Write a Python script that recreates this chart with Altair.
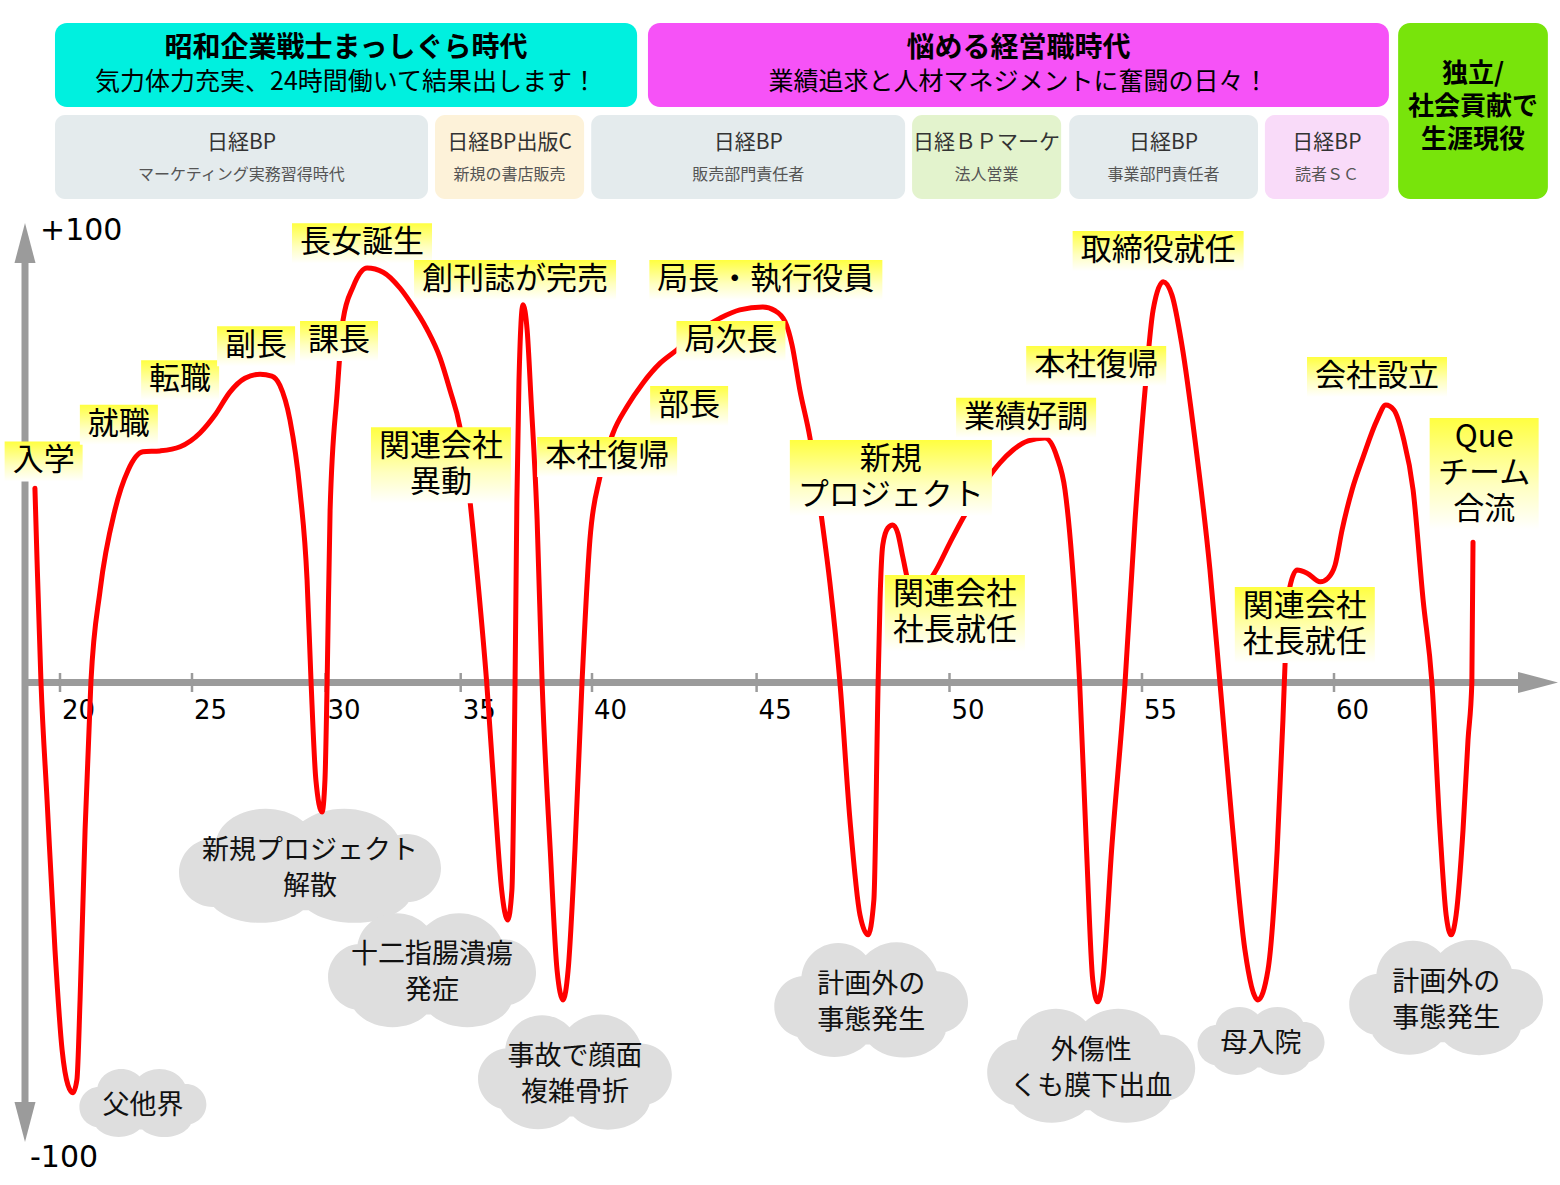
import altair as alt
import pandas as pd

FONT = "Noto Sans CJK JP"
NUM_FONT = "DejaVu Sans"

# ---------------- scale definition (ages on the horizontal axis are not evenly spaced) ----
TICK_AGES = [20, 25, 30, 35, 40, 45, 50, 55, 60]
TICK_PX = [60, 192, 325.5, 460.7, 592, 756.6, 949.5, 1142, 1334]
VAL_DOMAIN = [-100, 100]
VAL_PX = [1142, 223]

# ---------------- data ----------------
CURVE_AGE = [19.05, 19.13, 19.28, 19.51, 19.81, 20.08, 20.30, 20.49, 20.64, 20.76,
             20.95, 21.17, 21.52, 22.08, 22.58, 23.14, 23.79, 24.55, 25.30, 25.86,
             26.42, 26.98, 27.55, 27.99, 28.29, 28.67, 29.04, 29.31, 29.46, 29.64,
             29.87, 29.98, 30.06, 30.17, 30.43, 30.65, 31.02, 31.54, 32.13, 32.76,
             33.12, 33.75, 34.24, 34.60, 34.97, 35.35, 35.65, 35.99, 36.30, 36.56,
             36.79, 36.95, 37.07, 37.14, 37.22, 37.37, 37.53, 37.68, 37.91, 38.10,
             38.41, 38.67, 38.90, 39.09, 39.35, 39.62, 39.92, 40.24, 40.64, 41.06,
             41.55, 42.07, 42.58, 43.28, 43.89, 44.49, 45.16, 45.48, 45.74, 45.92,
             46.12, 46.38, 46.70, 46.90, 47.16, 47.42, 47.68, 47.89, 48.04, 48.15,
             48.20, 48.27, 48.40, 48.53, 48.66, 48.79, 48.97, 49.23, 49.62, 50.01,
             50.40, 50.97, 51.31, 51.65, 52.04, 52.48, 52.79, 53.00, 53.18, 53.38,
             53.56, 53.72, 53.85, 53.98, 54.21, 54.56, 54.82, 55.08, 55.29, 55.55,
             55.78, 56.04, 56.38, 56.77, 57.03, 57.34, 57.68, 58.02, 58.28, 58.52,
             58.67, 58.75, 58.85, 59.04, 59.30, 59.64, 59.84, 60.03, 60.21, 60.47,
             60.76, 61.12, 61.35, 61.56, 61.80, 62.06, 62.32, 62.55, 62.76, 62.92,
             63.05, 63.18, 63.36, 63.49, 63.59, 63.62]
CURVE_VAL = [42.3, 26.7, 0.0, -25.6, -58.2, -80.0, -87.6, -89.3, -86.5, -69.1,
             -32.1, 0.0, 20.1, 37.5, 46.2, 50.2, 50.4, 51.3, 54.3, 58.2,
             63.2, 66.2, 67.1, 66.7, 64.7, 57.1, 41.9, 22.3, 0.0, -21.2,
             -28.2, -21.2, 0.0, 37.5, 63.0, 78.9, 86.1, 90.2, 89.3, 85.8,
             82.9, 76.9, 70.6, 63.7, 55.6, 39.7, 22.3, 0.0, -25.6, -45.2,
             -51.7, -45.2, 0.0, 39.7, 65.8, 82.2, 76.7, 61.5, 35.4, 0.0,
             -36.5, -62.6, -69.1, -62.6, -36.5, 0.0, 31.0, 44.7, 54.3, 60.0,
             65.2, 69.5, 72.4, 76.7, 79.3, 81.1, 81.7, 80.9, 78.5, 73.4,
             63.7, 53.4, 34.9, 21.7, 0.0, -29.9, -50.6, -54.9, -47.3, 0.0,
             18.0, 29.9, 33.6, 34.3, 32.5, 27.3, 21.2, 20.1, 24.0, 30.4,
             36.5, 44.1, 47.8, 50.6, 52.6, 53.2, 49.1, 41.9, 26.7, 0.0,
             -36.5, -64.7, -69.5, -64.7, -36.5, 0.0, 35.4, 63.7, 81.1, 87.2,
             84.3, 73.4, 52.8, 24.5, 0.0, -29.9, -58.2, -69.1, -62.6, -36.5,
             -8.2, 9.2, 20.8, 24.5, 23.8, 21.9, 22.7, 25.6, 33.2, 41.9,
             49.1, 57.1, 60.4, 59.3, 53.4, 41.9, 18.0, 0.0, -32.1, -50.6,
             -54.9, -50.6, -32.1, -12.5, 0.0, 30.5]

EVENT_TEXT = ["入学", "就職", "転職", "副長", "課長", "長女誕生", "創刊誌が完売",
              "関連会社\n異動", "本社復帰", "部長", "局次長", "局長・執行役員",
              "新規\nプロジェクト", "関連会社\n社長就任", "業績好調", "本社復帰",
              "取締役就任", "関連会社\n社長就任", "会社設立", "Que\nチーム\n合流"]
EVENT_AGE = [19.38, 22.23, 24.55, 27.40, 30.50, 31.35, 37.07, 34.27, 40.46, 42.95,
             44.22, 45.24, 48.48, 50.14, 51.99, 53.81, 55.42, 59.24, 61.12, 63.91]
EVENT_VAL = [48.1, 56.1, 65.8, 73.2, 74.3, 95.6, 87.6, 47.3, 49.1, 60.2,
             74.3, 87.6, 44.5, 15.1, 57.6, 68.9, 93.9, 12.5, 66.5, 45.4]

CLOUD_TEXT = ["父他界", "新規プロジェクト\n解散", "十二指腸潰瘍\n発症", "事故で顔面\n複雑骨折",
              "計画外の\n事態発生", "外傷性\nくも膜下出血", "母入院", "計画外の\n事態発生"]
CLOUD_AGE = [23.14, 29.42, 33.94, 39.35, 47.97, 53.68, 58.10, 62.92]
CLOUD_VAL = [-91.5, -39.9, -62.6, -84.8, -69.1, -83.4, -78.0, -68.6]

PERIOD_TITLE = ["昭和企業戦士まっしぐら時代", "悩める経営職時代"]
PERIOD_SUB = ["気力体力充実、24時間働いて結果出します！", "業績追求と人材マネジメントに奮闘の日々！"]
PERIOD_FROM = [19.81, 41.70]
PERIOD_TO = [41.37, 61.43]

INDEP_TEXT = ["独立/\n社会貢献で\n生涯現役"]
INDEP_FROM = [61.67]
INDEP_TO = [65.57]

JOB_ORG = ["日経BP", "日経BP出版C", "日経BP", "日経ＢＰマーケ", "日経BP", "日経BP"]
JOB_ROLE = ["マーケティング実務習得時代", "新規の書店販売", "販売部門責任者", "法人営業",
            "事業部門責任者", "読者ＳＣ"]
JOB_FROM = [19.81, 34.05, 39.97, 49.03, 53.11, 58.20]
JOB_TO = [33.79, 39.70, 48.85, 52.90, 58.02, 61.43]

TICK_LABELS = ["20", "25", "30", "35", "40", "45", "50", "55", "60"]

# ---------------- styles ----------------
PERIOD_FILL = {"昭和企業戦士まっしぐら時代": "#00f0df", "悩める経営職時代": "#f652f7"}
INDEP_FILL = "#78e40b"
ROLE_FILL = {"マーケティング実務習得時代": "#e4ebed", "新規の書店販売": "#fdf2d9",
             "販売部門責任者": "#e4ebed", "法人営業": "#e3f3cd",
             "事業部門責任者": "#e4ebed", "読者ＳＣ": "#f9dbf9"}
AXIS_GRAY = "#9b9b9b"
LABEL_FS, LABEL_LH = 31, 36
CLOUD_FS, CLOUD_LH = 27, 36


# ---------------- helpers ----------------
def age_to_px(a):
    xs, ps = TICK_AGES, TICK_PX
    i = 0
    for j in range(len(xs) - 1):
        if a >= xs[j]:
            i = j
    return ps[i] + (a - xs[i]) * (ps[i + 1] - ps[i]) / (xs[i + 1] - xs[i])


def px_to_age(p):
    xs, ps = TICK_AGES, TICK_PX
    i = 0
    for j in range(len(ps) - 1):
        if p >= ps[j]:
            i = j
    return xs[i] + (p - ps[i]) * (xs[i + 1] - xs[i]) / (ps[i + 1] - ps[i])


PX_PER_VAL = (VAL_PX[0] - VAL_PX[1]) / (VAL_DOMAIN[1] - VAL_DOMAIN[0])
S = 100.0
SYM_SIZE = (2 * S) ** 2


def f(v):
    return f"{v / S:.4f}"


def ellipse(cx, cy, rx, ry):
    return (f"M{f(cx - rx)},{f(cy)}A{f(rx)},{f(ry)} 0 1 0 {f(cx + rx)},{f(cy)}"
            f"A{f(rx)},{f(ry)} 0 1 0 {f(cx - rx)},{f(cy)}Z")


def rect_path(w, h):
    return (f"M{f(-w / 2)},{f(-h / 2)}L{f(w / 2)},{f(-h / 2)}L{f(w / 2)},{f(h / 2)}"
            f"L{f(-w / 2)},{f(h / 2)}Z")


def cloud_path(w, h):
    hw, hh = w / 2, h / 2
    rs = min(0.30 * h, 0.16 * w)
    return "".join([
        ellipse(0, 0.03 * h, 0.40 * w, 0.36 * h),
        ellipse(-hw + rs, 0.06 * h, rs, rs),
        ellipse(hw - rs, 0.02 * h, rs, rs),
        ellipse(-0.17 * w, -hh + 0.32 * h, 0.19 * w, 0.32 * h),
        ellipse(0.13 * w, -hh + 0.37 * h, 0.22 * w, 0.37 * h),
        ellipse(-0.19 * w, hh - 0.30 * h, 0.21 * w, 0.30 * h),
        ellipse(0.17 * w, hh - 0.28 * h, 0.22 * w, 0.28 * h),
    ])


def n_lines(txt):
    return len(txt.split("\n"))


def text_width(txt, fs):
    return max(sum(fs * 0.62 if ord(c) < 128 else fs for c in line) for line in txt.split("\n"))


def first_line_val(val, txt, lh):
    # value at which the first line sits so that the whole block is centred on val
    return val + (n_lines(txt) - 1) * lh / 2 / PX_PER_VAL


def mid_age(a0, a1):
    return px_to_age((age_to_px(a0) + age_to_px(a1)) / 2)


XS = alt.Scale(domain=TICK_AGES, range=TICK_PX, nice=False, zero=False)
YS = alt.Scale(domain=VAL_DOMAIN, range=VAL_PX, nice=False, zero=False)


def X(field):
    return alt.X(field, type="quantitative", scale=XS, axis=None)


def Y(field):
    return alt.Y(field, type="quantitative", scale=YS, axis=None)


# ---------------- header ----------------
period_df = pd.DataFrame({"title": PERIOD_TITLE, "sub": PERIOD_SUB, "a0": PERIOD_FROM, "a1": PERIOD_TO})
period_df["fill"] = period_df["title"].map(PERIOD_FILL)
period_df["am"] = [mid_age(a, b) for a, b in zip(PERIOD_FROM, PERIOD_TO)]

indep_df = pd.DataFrame({"t": INDEP_TEXT, "a0": INDEP_FROM, "a1": INDEP_TO})
indep_df["am"] = [mid_age(a, b) for a, b in zip(INDEP_FROM, INDEP_TO)]

job_df = pd.DataFrame({"org": JOB_ORG, "role": JOB_ROLE, "a0": JOB_FROM, "a1": JOB_TO})
job_df["fill"] = job_df["role"].map(ROLE_FILL)
job_df["am"] = [mid_age(a, b) for a, b in zip(JOB_FROM, JOB_TO)]

period_rect = alt.Chart(period_df).mark_rect(cornerRadius=12).encode(
    x=X("a0"), x2="a1", y=alt.value(23), y2=alt.value(107),
    fill=alt.Fill("fill:N", scale=None))
period_title = alt.Chart(period_df).mark_text(font=FONT, fontSize=28, fontWeight="bold", color="#000").encode(
    x=X("am"), y=alt.value(49), text="title:N")
period_sub = alt.Chart(period_df).mark_text(font=FONT, fontSize=25, color="#000").encode(
    x=X("am"), y=alt.value(82), text="sub:N")

indep_rect = alt.Chart(indep_df).mark_rect(cornerRadius=12, fill=INDEP_FILL).encode(
    x=X("a0"), x2="a1", y=alt.value(23), y2=alt.value(199))
indep_text = alt.Chart(indep_df).mark_text(font=FONT, fontSize=26, fontWeight="bold", color="#000",
                                           lineBreak="\n", lineHeight=33).encode(
    x=X("am"), y=alt.value(74), text="t:N")

job_rect = alt.Chart(job_df).mark_rect(cornerRadius=10).encode(
    x=X("a0"), x2="a1", y=alt.value(115), y2=alt.value(199),
    fill=alt.Fill("fill:N", scale=None))
job_org = alt.Chart(job_df).mark_text(font=FONT, fontSize=21, color="#333").encode(
    x=X("am"), y=alt.value(143), text="org:N")
job_role = alt.Chart(job_df).mark_text(font=FONT, fontSize=16, color="#555").encode(
    x=X("am"), y=alt.value(175), text="role:N")

# ---------------- clouds ----------------
cloud_df = pd.DataFrame({"t": CLOUD_TEXT, "age": CLOUD_AGE, "val": CLOUD_VAL})
cloud_shapes = []
for t in CLOUD_TEXT:
    h = 22 + 46 * n_lines(t)
    w = max(text_width(t, CLOUD_FS) + 46, 1.7 * h)
    cloud_shapes.append(cloud_path(w, h))
cloud_df["shape"] = cloud_shapes
cloud_df["ty"] = [first_line_val(v, t, CLOUD_LH) for v, t in zip(CLOUD_VAL, CLOUD_TEXT)]

cloud_mark = alt.Chart(cloud_df).mark_point(filled=True, size=SYM_SIZE, opacity=1, fill="#dedede",
                                            strokeOpacity=0).encode(
    x=X("age"), y=Y("val"), shape=alt.Shape("shape:N", scale=None))
cloud_text = alt.Chart(cloud_df).mark_text(font=FONT, fontSize=CLOUD_FS, lineHeight=CLOUD_LH, lineBreak="\n",
                                           color="#111", dy=3).encode(
    x=X("age"), y=Y("ty"), text="t:N")

# ---------------- axes ----------------
AXIS_AGE = px_to_age(25)
ARROW_TIP_AGE = px_to_age(1558)
ARROW_LEN = 40.0
ARROW_HALF = 10.5

vaxis_df = pd.DataFrame({"age": [AXIS_AGE], "v0": [-100 + ARROW_LEN / 2 / PX_PER_VAL],
                         "v1": [100 - ARROW_LEN / 2 / PX_PER_VAL]})
haxis_df = pd.DataFrame({"a0": [AXIS_AGE], "a1": [px_to_age(1558 - ARROW_LEN / 2)], "v": [0]})
vaxis = alt.Chart(vaxis_df).mark_rule(color=AXIS_GRAY, strokeWidth=7).encode(
    x=X("age"), y=Y("v0"), y2="v1")
haxis = alt.Chart(haxis_df).mark_rule(color=AXIS_GRAY, strokeWidth=7).encode(
    x=X("a0"), x2="a1", y=Y("v"))

arrow_df = pd.DataFrame({
    "age": [AXIS_AGE, AXIS_AGE, ARROW_TIP_AGE],
    "val": [100, -100, 0],
    "shape": [
        f"M0,0L{f(ARROW_HALF)},{f(ARROW_LEN)}L{f(-ARROW_HALF)},{f(ARROW_LEN)}Z",
        f"M0,0L{f(ARROW_HALF)},{f(-ARROW_LEN)}L{f(-ARROW_HALF)},{f(-ARROW_LEN)}Z",
        f"M0,0L{f(-ARROW_LEN)},{f(-ARROW_HALF)}L{f(-ARROW_LEN)},{f(ARROW_HALF)}Z",
    ]})
arrows = alt.Chart(arrow_df).mark_point(filled=True, size=SYM_SIZE, opacity=1, fill=AXIS_GRAY,
                                        strokeOpacity=0).encode(
    x=X("age"), y=Y("val"), shape=alt.Shape("shape:N", scale=None))

tick_half = 9.5 / PX_PER_VAL
tick_df = pd.DataFrame({"age": TICK_AGES, "lab": TICK_LABELS, "t0": -tick_half, "t1": tick_half, "z": 0})
ticks = alt.Chart(tick_df).mark_rule(color=AXIS_GRAY, strokeWidth=2.5).encode(
    x=X("age"), y=Y("t0"), y2="t1")
tick_labels = alt.Chart(tick_df).mark_text(font=NUM_FONT, fontSize=26, color="#000", align="left",
                                           dx=2, dy=28).encode(
    x=X("age"), y=Y("z"), text="lab:N")

end_df = pd.DataFrame({"age": [AXIS_AGE], "top": [100], "bot": [-100]})
top_label = alt.Chart(end_df).mark_text(font=NUM_FONT, fontSize=30, color="#000", align="left",
                                        dx=15, dy=8, text="+100").encode(x=X("age"), y=Y("top"))
bot_label = alt.Chart(end_df).mark_text(font=NUM_FONT, fontSize=30, color="#000", align="left",
                                        dx=5, dy=16, text="-100").encode(x=X("age"), y=Y("bot"))

# ---------------- curve ----------------
curve_df = pd.DataFrame({"age": CURVE_AGE, "val": CURVE_VAL})
curve = alt.Chart(curve_df).mark_line(color="#ff0000", strokeWidth=5, interpolate="monotone",
                                      strokeCap="round", strokeJoin="round").encode(
    x=X("age"), y=Y("val"))

# ---------------- event labels ----------------
event_df = pd.DataFrame({"t": EVENT_TEXT, "age": EVENT_AGE, "val": EVENT_VAL})
event_df["shape"] = [rect_path(text_width(t, LABEL_FS) + 16, LABEL_LH * n_lines(t) + 4) for t in EVENT_TEXT]
event_df["ty"] = [first_line_val(v, t, LABEL_LH) for v, t in zip(EVENT_VAL, EVENT_TEXT)]
yellow = alt.Gradient(gradient="linear",
                      stops=[alt.GradientStop(color="#ffff40", offset=0),
                             alt.GradientStop(color="#ffffc0", offset=0.6),
                             alt.GradientStop(color="#ffffff", offset=1)],
                      x1=0, x2=0, y1=0, y2=1)
event_box = alt.Chart(event_df).mark_point(filled=True, size=SYM_SIZE, opacity=1, fill=yellow,
                                           strokeOpacity=0).encode(
    x=X("age"), y=Y("val"), shape=alt.Shape("shape:N", scale=None))
event_text = alt.Chart(event_df).mark_text(font=FONT, fontSize=LABEL_FS, lineHeight=LABEL_LH, lineBreak="\n",
                                           color="#000").encode(
    x=X("age"), y=Y("ty"), text="t:N")

chart = alt.layer(
    period_rect, indep_rect, job_rect, period_title, period_sub, indep_text, job_org, job_role,
    cloud_mark, cloud_text,
    vaxis, haxis, ticks, arrows, tick_labels, top_label, bot_label,
    curve, event_box, event_text,
).properties(
    width=1560, height=1185, padding=0,
    autosize=alt.AutoSizeParams(type="none"),
    background="white",
).configure_view(strokeWidth=0)

chart.save("out.html", embed_options={"renderer": "svg", "actions": False})
